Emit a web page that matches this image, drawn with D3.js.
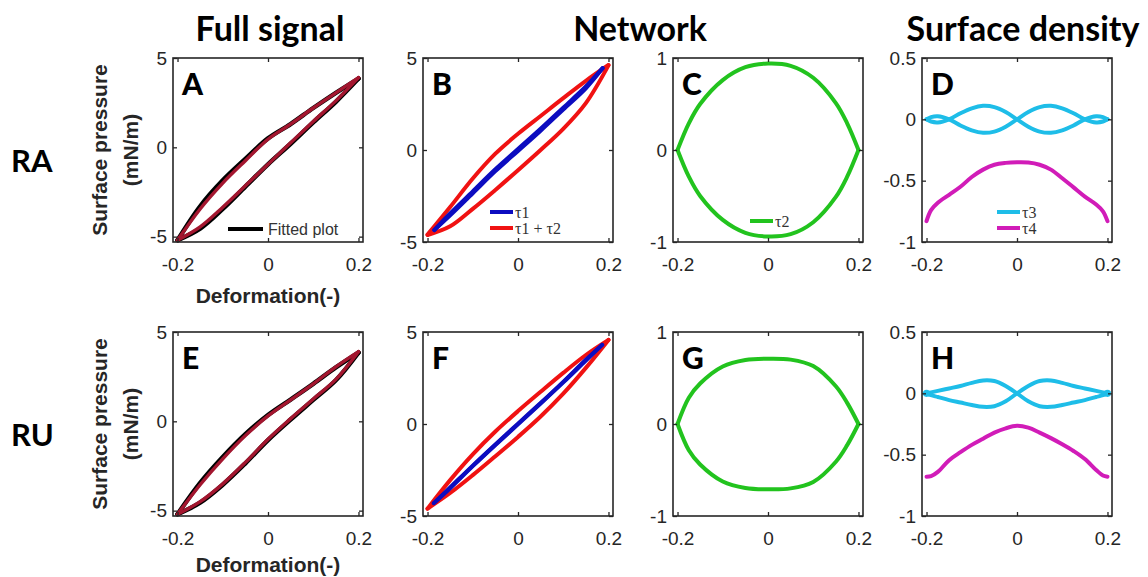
<!DOCTYPE html>
<html>
<head>
<meta charset="utf-8">
<script src="https://cdn.jsdelivr.net/npm/d3@7"></script>
<style>
body { margin: 0; background: #fff; }
</style>
</head>
<body>
<svg id="chart" width="1148" height="577"></svg>
<script>
// deformation grids
var xDef = [-0.2, -0.15, -0.1, -0.05, 0, 0.05, 0.1, 0.15, 0.2];
var xTau1B = [-0.185, -0.15, -0.1, -0.05, 0, 0.05, 0.1, 0.15, 0.187];
var xTau1F = [-0.186, -0.15, -0.1, -0.05, 0, 0.05, 0.1, 0.15, 0.186];
var xTau2 = [-0.2, -0.175, -0.15, -0.1, -0.05, 0, 0.05, 0.1, 0.15, 0.175, 0.2];
var xDens = [-0.2, -0.19, -0.175, -0.15, -0.125, -0.1, -0.075, -0.05, -0.025, 0,
             0.025, 0.05, 0.075, 0.1, 0.125, 0.15, 0.175, 0.19, 0.2];

// A / E : full signal (experiment + fitted)
var raFitUp = [-5.2, -3.3, -1.85, -0.65, 0.5, 1.3, 2.2, 3.05, 3.85];
var raFitLo = [-5.2, -4.55, -3.45, -2.2, -0.95, 0.2, 1.4, 2.55, 3.85];
var raExpUp = [-5.2, -3.45, -2.0, -0.75, 0.45, 1.3, 2.2, 3.05, 3.9];
var raExpLo = [-5.2, -4.45, -3.35, -2.15, -0.95, 0.25, 1.45, 2.6, 3.9];
var ruFitUp = [-5.2, -3.45, -2.0, -0.72, 0.35, 1.22, 2.1, 3.02, 3.85];
var ruFitLo = [-5.2, -4.55, -3.55, -2.35, -1.05, 0.1, 1.2, 2.3, 3.85];
var ruExpUp = [-5.2, -3.55, -2.1, -0.8, 0.3, 1.2, 2.1, 3.05, 3.9];
var ruExpLo = [-5.2, -4.5, -3.5, -2.3, -1.0, 0.15, 1.25, 2.35, 3.9];

// B / F : network tau1 and tau1 + tau2
var raTau1Up = [-4.35, -3.45, -2.25, -1.05, 0.05, 1.15, 2.3, 3.45, 4.45];
var raTau1Lo = [-4.35, -3.55, -2.35, -1.15, -0.05, 1.05, 2.2, 3.35, 4.45];
var raSumUp = [-4.6, -3.1, -1.55, -0.2, 0.88, 1.85, 2.82, 3.76, 4.62];
var raSumLo = [-4.62, -4.15, -3.2, -2.17, -1.1, 0.0, 1.15, 2.55, 4.6];
var ruTau1Up = [-4.3, -3.45, -2.26, -1.11, 0.02, 1.14, 2.29, 3.49, 4.3];
var ruTau1Lo = [-4.3, -3.49, -2.29, -1.14, -0.02, 1.11, 2.26, 3.45, 4.3];
var ruSumUp = [-4.6, -3.05, -1.65, -0.41, 0.7, 1.75, 2.78, 3.75, 4.57];
var ruSumLo = [-4.6, -3.75, -2.78, -1.75, -0.7, 0.41, 1.65, 3.05, 4.57];

// C / G : tau2
var raTau2Up = [0, 0.29, 0.5, 0.76, 0.9, 0.94, 0.915, 0.785, 0.51, 0.29, 0];
var raTau2Lo = [0, -0.29, -0.5, -0.76, -0.9, -0.94, -0.915, -0.785, -0.51, -0.29, 0];
var ruTau2Up = [0, 0.285, 0.44, 0.625, 0.695, 0.71, 0.7, 0.63, 0.41, 0.23, 0];
var ruTau2Lo = [0, -0.285, -0.44, -0.625, -0.695, -0.71, -0.7, -0.63, -0.41, -0.23, 0];

// D / H : surface density tau3, tau4
var raTau3A = [0, 0.018, 0.025, 0, -0.05, -0.09, -0.11, -0.1, -0.06, 0,
               0.06, 0.1, 0.11, 0.09, 0.05, 0, -0.025, -0.018, 0];
var raTau3B = [0, -0.018, -0.025, 0, 0.05, 0.09, 0.11, 0.1, 0.06, 0,
               -0.06, -0.1, -0.11, -0.09, -0.05, 0, 0.025, 0.018, 0];
var raTau4 = [-0.83, -0.74, -0.68, -0.615, -0.55, -0.47, -0.41, -0.37, -0.355, -0.35,
              -0.352, -0.37, -0.41, -0.48, -0.555, -0.63, -0.695, -0.75, -0.83];
var ruTau3A = [0, 0.008, 0.02, 0.04, 0.06, 0.085, 0.105, 0.1, 0.06, 0,
               -0.065, -0.105, -0.11, -0.095, -0.075, -0.055, -0.03, -0.015, 0];
var ruTau3B = [0, -0.015, -0.03, -0.055, -0.075, -0.095, -0.11, -0.105, -0.065, 0,
               0.06, 0.1, 0.105, 0.085, 0.06, 0.04, 0.02, 0.008, 0];
var ruTau4 = [-0.68, -0.675, -0.64, -0.545, -0.48, -0.42, -0.37, -0.32, -0.285, -0.265,
              -0.28, -0.32, -0.365, -0.415, -0.47, -0.535, -0.625, -0.67, -0.68];

var xTicks = [-0.2, 0, 0.2];
var colTitles = [["Full signal", 270], ["Network", 640], ["Surface density", 1023]];
var rowNames = ["RA", "RU"];

var black = "#000", dark = "#a3162f", blue = "#0c0cc0", red = "#f01212",
    green = "#22c31e", cyan = "#1ebde8", magenta = "#d11cb8";

var svg = d3.select("#chart");
svg.append("rect").attr("width", 1148).attr("height", 577).attr("fill", "#fff");

var colLeft = [173, 423, 673, 922], rowTop = [58, 332], pw = 190, ph = 184;

var panels = [
  {id: "A", col: 0, row: 0, yDom: [-5.3, 5], yTicks: [-5, 0, 5], lines: [
    {x: xDef, y: raFitUp, c: black, w: 4.5}, {x: xDef, y: raFitLo, c: black, w: 4.5},
    {x: xDef, y: raExpUp, c: dark, w: 3.4}, {x: xDef, y: raExpLo, c: dark, w: 3.4}],
   legend: [{dx: 55, dy: 171, c: black, t: "Fitted plot", serif: false}]},
  {id: "B", col: 1, row: 0, yDom: [-5, 5], yTicks: [-5, 0, 5], lines: [
    {x: xDef, y: raSumUp, c: red, w: 4}, {x: xDef, y: raSumLo, c: red, w: 4},
    {x: xTau1B, y: raTau1Up, c: blue, w: 4}, {x: xTau1B, y: raTau1Lo, c: blue, w: 4}],
   legend: [{dx: 67, dy: 154, c: blue, t: "τ1", serif: true}, {dx: 67, dy: 170, c: red, t: "τ1 + τ2", serif: true}]},
  {id: "C", col: 2, row: 0, yDom: [-1, 1], yTicks: [-1, 0, 1], lines: [
    {x: xTau2, y: raTau2Up, c: green, w: 4}, {x: xTau2, y: raTau2Lo, c: green, w: 4}],
   legend: [{dx: 77, dy: 163, c: green, t: "τ2", serif: true}]},
  {id: "D", col: 3, row: 0, yDom: [-1, 0.5], yTicks: [-1, -0.5, 0, 0.5], lines: [
    {x: xDens, y: raTau3A, c: cyan, w: 4}, {x: xDens, y: raTau3B, c: cyan, w: 4},
    {x: xDens, y: raTau4, c: magenta, w: 4}],
   legend: [{dx: 75, dy: 154, c: cyan, t: "τ3", serif: true}, {dx: 75, dy: 170, c: magenta, t: "τ4", serif: true}]},
  {id: "E", col: 0, row: 1, yDom: [-5.3, 5], yTicks: [-5, 0, 5], lines: [
    {x: xDef, y: ruFitUp, c: black, w: 4.5}, {x: xDef, y: ruFitLo, c: black, w: 4.5},
    {x: xDef, y: ruExpUp, c: dark, w: 3.4}, {x: xDef, y: ruExpLo, c: dark, w: 3.4}], legend: []},
  {id: "F", col: 1, row: 1, yDom: [-5, 5], yTicks: [-5, 0, 5], lines: [
    {x: xDef, y: ruSumUp, c: red, w: 4}, {x: xDef, y: ruSumLo, c: red, w: 4},
    {x: xTau1F, y: ruTau1Up, c: blue, w: 4}, {x: xTau1F, y: ruTau1Lo, c: blue, w: 4}], legend: []},
  {id: "G", col: 2, row: 1, yDom: [-1, 1], yTicks: [-1, 0, 1], lines: [
    {x: xTau2, y: ruTau2Up, c: green, w: 4}, {x: xTau2, y: ruTau2Lo, c: green, w: 4}], legend: []},
  {id: "H", col: 3, row: 1, yDom: [-1, 0.5], yTicks: [-1, -0.5, 0, 0.5], lines: [
    {x: xDens, y: ruTau3A, c: cyan, w: 4}, {x: xDens, y: ruTau3B, c: cyan, w: 4},
    {x: xDens, y: ruTau4, c: magenta, w: 4}], legend: [], ends: true}
];

var axisColor = "#262626";
var sans = "'Liberation Sans', Arial, sans-serif";
var heavy = "Lato, 'Open Sans', sans-serif";

panels.forEach(function(p) {
  var g = svg.append("g")
    .attr("transform", "translate(" + colLeft[p.col] + "," + rowTop[p.row] + ")");
  var x = d3.scaleLinear().domain([-0.21, 0.21]).range([0, pw]);
  var y = d3.scaleLinear().domain(p.yDom).range([ph, 0]);
  var line = d3.line()
    .x(function(d) { return x(d[0]); })
    .y(function(d) { return y(d[1]); })
    .curve(d3.curveCatmullRom.alpha(0.5));

  p.lines.forEach(function(s) {
    g.append("path")
      .datum(d3.zip(s.x, s.y))
      .attr("d", line)
      .attr("fill", "none")
      .attr("stroke", s.c)
      .attr("stroke-width", s.w)
      .attr("stroke-linejoin", "round")
      .attr("stroke-linecap", "round");
  });

  if (p.ends) {
    // little blobs where the tau3 loop closes
    var first = p.lines[0];
    [0, first.x.length - 1].forEach(function(i) {
      g.append("circle")
        .attr("cx", x(first.x[i])).attr("cy", y(first.y[i]))
        .attr("r", 3.6).attr("fill", first.c);
    });
  }

  // box with inward ticks, matlab style
  var bottom = g.append("g").attr("transform", "translate(0," + ph + ")")
    .call(d3.axisBottom(x).tickValues(xTicks).tickSizeInner(-4).tickSizeOuter(0)
      .tickPadding(15.5).tickFormat(String));
  var left = g.append("g")
    .call(d3.axisLeft(y).tickValues(p.yTicks).tickSizeInner(-4).tickSizeOuter(0)
      .tickPadding(6).tickFormat(String));
  var top = g.append("g")
    .call(d3.axisTop(x).tickValues(xTicks).tickSizeInner(-4).tickSizeOuter(0).tickFormat(""));
  var right = g.append("g").attr("transform", "translate(" + pw + ",0)")
    .call(d3.axisRight(y).tickValues(p.yTicks).tickSizeInner(-4).tickSizeOuter(0).tickFormat(""));
  [bottom, left, top, right].forEach(function(a) {
    a.select(".domain").remove();
    a.selectAll("line").attr("stroke", axisColor).attr("stroke-width", 1.3);
    a.selectAll("text").attr("fill", axisColor).style("font-family", sans).style("font-size", "19px");
  });
  g.append("rect").attr("width", pw).attr("height", ph)
    .attr("fill", "none").attr("stroke", axisColor).attr("stroke-width", 1.6);

  // panel letter
  g.append("text").attr("x", 9).attr("y", 37).text(p.id)
    .style("font-family", heavy).style("font-weight", 900)
    .style("font-size", "30px").attr("fill", "#000");

  // legend
  p.legend.forEach(function(l) {
    var len = l.serif ? 23 : 35;
    g.append("line").attr("x1", l.dx).attr("x2", l.dx + len)
      .attr("y1", l.dy).attr("y2", l.dy)
      .attr("stroke", l.c).attr("stroke-width", 4);
    g.append("text").attr("x", l.dx + len + (l.serif ? 2 : 5)).attr("y", l.dy).attr("dy", "0.35em")
      .text(l.t)
      .style("font-family", l.serif ? "'Liberation Serif', 'Times New Roman', serif" : sans)
      .style("font-size", "16px")
      .attr("fill", "#333");
  });
});

// column titles
colTitles.forEach(function(t) {
  svg.append("text").attr("x", t[1]).attr("y", 41).attr("text-anchor", "middle")
    .text(t[0])
    .style("font-family", heavy).style("font-weight", 700)
    .style("font-size", "34px").attr("fill", "#000");
});

// row names and axis titles
rowNames.forEach(function(name, r) {
  var top = rowTop[r], mid = top + ph / 2;
  svg.append("text").attr("x", 11).attr("y", mid + 22).text(name)
    .style("font-family", heavy).style("font-weight", 700)
    .style("font-size", "31px").attr("fill", "#000");

  var yl = svg.append("text")
    .attr("transform", "translate(107," + mid + ") rotate(-90)")
    .attr("text-anchor", "middle")
    .style("font-family", sans).style("font-weight", 700).style("font-size", "21px")
    .attr("fill", axisColor);
  yl.append("tspan").attr("x", 0).attr("y", 0).text("Surface pressure");
  yl.append("tspan").attr("x", 0).attr("y", 31).text("(mN/m)");

  svg.append("text").attr("x", colLeft[0] + pw / 2).attr("y", Math.min(top + ph + 61, 572))
    .attr("text-anchor", "middle").text("Deformation(-)")
    .style("font-family", sans).style("font-weight", 700).style("font-size", "21px")
    .attr("fill", axisColor);
});
</script>
</body>
</html>
